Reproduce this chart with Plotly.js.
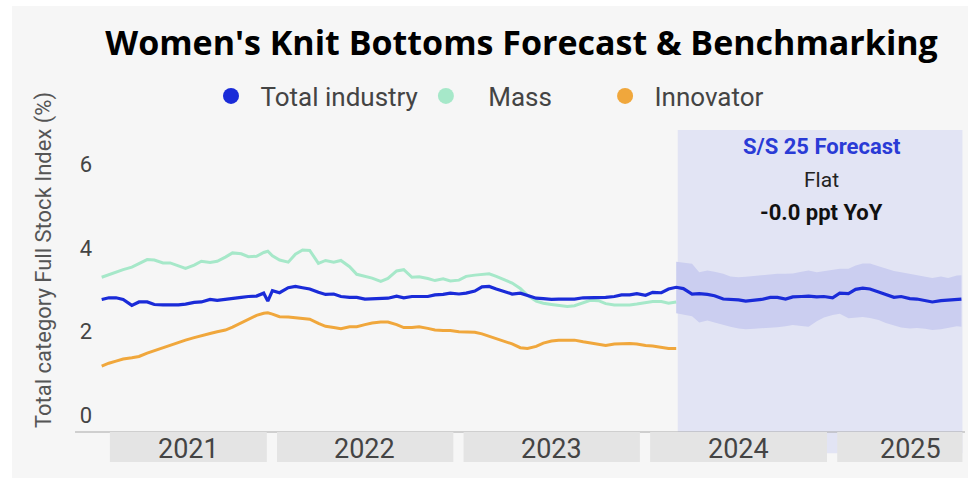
<!DOCTYPE html>
<html>
<head>
<meta charset="utf-8">
<script src="https://cdn.plot.ly/plotly-3.0.1.min.js"></script>
<style>
  html, body { margin:0; padding:0; background:#ffffff; }
  #chart { position:absolute; left:12px; top:6px; width:956px; height:472px; }
</style>
</head>
<body>
<div id="chart"></div>
<script>
// ---------- DATA ----------
const histDates = [
 '2021-02-01','2021-02-15','2021-03-01','2021-03-15','2021-04-01','2021-04-15','2021-05-01','2021-05-15',
 '2021-06-01','2021-06-15','2021-07-01','2021-07-15','2021-08-01','2021-08-15','2021-09-01','2021-09-15',
 '2021-10-01','2021-10-15','2021-11-01','2021-11-15','2021-12-01','2021-12-15','2021-12-23',
 '2022-01-01','2022-01-15','2022-02-01','2022-02-15','2022-03-01','2022-03-15','2022-04-01','2022-04-15',
 '2022-05-01','2022-05-15','2022-06-01','2022-06-15','2022-07-01','2022-07-15','2022-08-01','2022-08-15',
 '2022-09-01','2022-09-15','2022-10-01','2022-10-15','2022-11-01','2022-11-15','2022-12-01','2022-12-15',
 '2023-01-01','2023-01-15','2023-02-01','2023-02-15','2023-03-01','2023-03-15','2023-04-01','2023-04-15',
 '2023-05-01','2023-05-15','2023-06-01','2023-06-15','2023-07-01','2023-07-15','2023-08-01','2023-08-15',
 '2023-09-01','2023-09-15','2023-10-01','2023-10-15','2023-11-01','2023-11-15','2023-12-01','2023-12-15',
 '2024-01-01','2024-01-15','2024-02-01','2024-02-15','2024-03-01'
];
const forecastDates = [
 '2024-03-15','2024-04-01','2024-04-15','2024-05-01','2024-05-15','2024-06-01','2024-06-15','2024-07-01',
 '2024-07-15','2024-08-01','2024-08-15','2024-09-01','2024-09-15','2024-10-01','2024-10-15','2024-11-01',
 '2024-11-15','2024-12-01','2024-12-15',
 '2025-01-01','2025-01-15','2025-02-01','2025-02-15','2025-03-01','2025-03-15','2025-04-01','2025-04-15',
 '2025-05-01','2025-05-15','2025-06-01','2025-06-15','2025-07-01','2025-07-15','2025-08-01','2025-08-15',
 '2025-09-01','2025-09-10'
];
const bandDates = ['2024-03-01'].concat(forecastDates);

const totalHist = [
 2.77,2.81,2.81,2.77,2.63,2.71,2.71,2.65,2.64,2.64,2.64,2.66,2.70,2.71,2.77,2.75,2.78,2.80,2.82,2.84,2.85,2.92,2.73,
 2.98,2.93,3.05,3.08,3.05,3.02,2.94,2.89,2.90,2.84,2.82,2.82,2.78,2.79,2.80,2.80,2.85,2.81,2.84,2.84,2.84,2.88,2.89,2.92,
 2.90,2.92,2.97,3.07,3.08,3.02,2.95,2.90,2.92,2.87,2.80,2.79,2.77,2.78,2.79,2.78,2.81,2.81,2.82,2.82,2.84,2.88,2.88,2.91,
 2.87,2.94,2.93,3.02,3.06
];
const totalForecast = [
 3.03,2.90,2.91,2.89,2.86,2.78,2.77,2.76,2.73,2.75,2.77,2.82,2.82,2.78,2.83,2.84,2.85,2.83,2.84,
 2.81,2.92,2.91,3.01,3.04,3.02,2.95,2.88,2.82,2.84,2.79,2.78,2.74,2.71,2.74,2.75,2.78,2.78
];
const massValues = [
 3.30,3.36,3.43,3.48,3.54,3.62,3.72,3.71,3.64,3.64,3.58,3.51,3.59,3.68,3.65,3.68,3.78,3.88,3.86,3.79,3.80,3.89,3.92,
 3.81,3.71,3.66,3.85,3.95,3.94,3.63,3.70,3.66,3.70,3.55,3.37,3.32,3.28,3.20,3.27,3.45,3.48,3.30,3.31,3.27,3.22,3.26,3.21,
 3.23,3.32,3.35,3.37,3.38,3.32,3.24,3.16,3.03,2.87,2.73,2.68,2.65,2.62,2.60,2.62,2.69,2.75,2.74,2.67,2.64,2.64,2.64,2.66,
 2.70,2.72,2.72,2.68,2.71
];
const innovatorValues = [
 1.18,1.25,1.30,1.35,1.38,1.41,1.49,1.55,1.62,1.67,1.74,1.80,1.86,1.91,1.96,2.00,2.04,2.11,2.21,2.29,2.39,2.44,2.45,
 2.42,2.36,2.35,2.33,2.32,2.30,2.20,2.13,2.10,2.07,2.12,2.12,2.17,2.21,2.23,2.23,2.17,2.10,2.10,2.12,2.08,2.04,2.03,2.03,
 2.00,2.00,1.99,1.95,1.89,1.83,1.76,1.71,1.62,1.60,1.65,1.73,1.78,1.80,1.80,1.80,1.76,1.73,1.70,1.67,1.71,1.72,1.72,1.71,
 1.67,1.66,1.63,1.60,1.60
];
const bandUpper = [
 3.67,3.65,3.62,3.42,3.46,3.43,3.38,3.32,3.30,3.31,3.33,3.36,3.37,3.38,3.38,3.39,3.43,3.46,3.42,3.44,
 3.48,3.50,3.50,3.58,3.63,3.63,3.56,3.51,3.45,3.42,3.38,3.36,3.32,3.28,3.32,3.28,3.34,3.35
];
const bandLower = [
 2.44,2.41,2.37,2.22,2.27,2.22,2.16,2.12,2.08,2.06,2.07,2.08,2.09,2.11,2.13,2.16,2.14,2.12,2.25,2.34,
 2.40,2.43,2.32,2.34,2.35,2.33,2.28,2.21,2.15,2.10,2.08,2.09,2.07,2.04,2.06,2.09,2.13,2.12
];
const seriesNames = ['Total industry','Mass','Innovator'];
const yearLabels = ['2021','2022','2023','2024','2025'];
const yTicks = [0,2,4,6];
const titleText = "Women's Knit Bottoms Forecast & Benchmarking";
const yTitle = 'Total category Full Stock Index (%)';
const forecastNotes = ['S/S 25 Forecast','Flat','-0.0 ppt YoY'];

// ---------- STYLE ----------
const C_TOTAL = '#1a2bd8', C_MASS = '#a6e8c9', C_INNOV = '#f0a73c';
const FONT = 'Roboto, "Open Sans", sans-serif';
const NB = '\u00a0';
const legendLead = [NB, NB+NB+NB, NB];
const legendPad = ['', NB+NB+NB+NB+NB+NB+NB, ''];

const traces = [
  {x: bandDates, y: bandLower, type:'scatter', mode:'lines', line:{width:0, color:'rgba(0,0,0,0)'},
   showlegend:false, hoverinfo:'skip'},
  {x: bandDates, y: bandUpper, type:'scatter', mode:'lines', line:{width:0, color:'rgba(0,0,0,0)'},
   fill:'tonexty', fillcolor:'#cbcef0', showlegend:false, hoverinfo:'skip'},
  {x: histDates, y: massValues, type:'scatter', mode:'lines', name:seriesNames[1],
   line:{color:C_MASS, width:3}, showlegend:false},
  {x: histDates, y: innovatorValues, type:'scatter', mode:'lines', name:seriesNames[2],
   line:{color:C_INNOV, width:3}, showlegend:false},
  {x: histDates.concat(forecastDates), y: totalHist.concat(totalForecast), type:'scatter', mode:'lines',
   name:seriesNames[0], line:{color:C_TOTAL, width:3.2}, showlegend:false}
];
[C_TOTAL, C_MASS, C_INNOV].forEach(function(col, i){
  traces.push({x:[null], y:[null], type:'scatter', mode:'markers', name:legendLead[i]+seriesNames[i]+legendPad[i],
    marker:{color:col, size:16, symbol:'circle'}});
});

const dataStartBox = '2021-02-17', dataEndBox = '2025-09-12';
const boxH = -30/302;
const shapes = [
  {type:'rect', xref:'x', yref:'paper', x0:'2024-03-04', x1:'2025-09-12', y0:-0.07, y1:1,
   fillcolor:'#e2e4f4', line:{width:0}, layer:'below'},
  {type:'line', xref:'paper', yref:'paper', x0:-0.0206, x1:1, y0:0, y1:0, line:{color:'#a8a8a8', width:1}}
];
const annotations = [];
yearLabels.forEach(function(yr, i){
  let x0 = yr + '-01-10', x1 = yr + '-12-21';
  if (x0 < dataStartBox) x0 = dataStartBox;
  if (x1 > dataEndBox) x1 = dataEndBox;
  shapes.push({type:'rect', xref:'x', yref:'paper', x0:x0, x1:x1, y0:boxH, y1:0,
    fillcolor:'#e4e4e4', line:{width:0}, layer:'above'});
  const mid = new Date((new Date(x0).getTime() + new Date(x1).getTime())/2);
  annotations.push({xref:'x', yref:'paper', x:mid.toISOString().slice(0,10), y:boxH/2 - 0.005,
    xshift: (i === yearLabels.length-1) ? 11 : 0,
    text:yr, showarrow:false, xanchor:'center', yanchor:'middle', font:{size:27, color:'#444', family:FONT}});
});
annotations.push({xref:'paper', yref:'paper', x:-0.056, y:0.57, text:yTitle, textangle:-90, showarrow:false,
  xanchor:'center', yanchor:'middle', font:{size:22, color:'#555', family:FONT}});
annotations.push({xref:'paper', yref:'paper', x:0.836, y:0.947, text:'<b>'+forecastNotes[0]+'</b>', showarrow:false,
  xanchor:'center', yanchor:'middle', font:{size:22, color:'#2a3bd6', family:FONT}});
annotations.push({xref:'paper', yref:'paper', x:0.836, y:0.834, text:forecastNotes[1], showarrow:false,
  xanchor:'center', yanchor:'middle', font:{size:21, color:'#222', family:FONT}});
annotations.push({xref:'paper', yref:'paper', x:0.836, y:0.728, text:'<b>'+forecastNotes[2]+'</b>', showarrow:false,
  xanchor:'center', yanchor:'middle', font:{size:22, color:'#111', family:FONT}});

const layout = {
  width:956, height:472,
  paper_bgcolor:'#f6f6f6', plot_bgcolor:'rgba(0,0,0,0)',
  margin:{l:81, r:3, t:124, b:46},
  font:{family:FONT, color:'#444'},
  title:{text:'<b>'+titleText+'</b>', font:{size:34, color:'#000', family:'"Open Sans", Roboto, sans-serif'},
    x:0.533, xanchor:'center', y:0.922, yanchor:'middle', xref:'container', yref:'container'},
  legend:{orientation:'h', traceorder:'normal', xref:'container', yref:'container', x:196/956, y:1-90/472,
    xanchor:'left', yanchor:'middle', itemwidth:36,
    font:{size:26, color:'#444', family:FONT}, bgcolor:'rgba(0,0,0,0)'},
  xaxis:{type:'date', range:['2021-01-15','2025-09-17'], showticklabels:false, showgrid:false,
    zeroline:false, showline:false, ticks:''},
  yaxis:{range:[-0.39, 6.81], tickvals:yTicks, ticktext:yTicks.map(String), showgrid:false, zeroline:false,
    showline:false, ticks:'', tickfont:{size:22, color:'#444', family:FONT}},
  shapes:shapes,
  annotations:annotations,
  showlegend:true
};

Plotly.newPlot('chart', traces, layout, {displayModeBar:false, staticPlot:true});
</script>
</body>
</html>
